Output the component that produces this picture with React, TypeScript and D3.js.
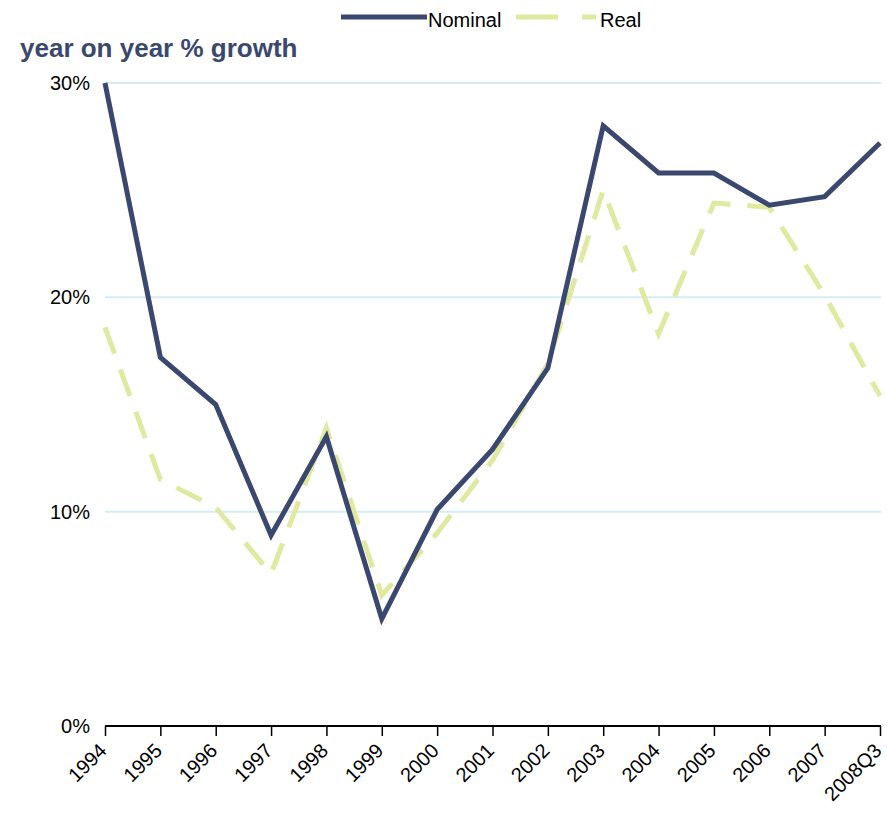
import React, { useRef, useEffect } from 'react';
import * as d3 from 'd3';

const categories = ['1994', '1995', '1996', '1997', '1998', '1999', '2000', '2001', '2002', '2003', '2004', '2005', '2006', '2007', '2008Q3'];
const nominal = [30.0, 17.2, 15.0, 8.9, 13.5, 5.0, 10.1, 12.9, 16.7, 28.0, 25.8, 25.8, 24.3, 24.7, 27.2];
const real = [18.6, 11.5, 10.2, 7.1, 13.9, 6.1, 9.0, 12.4, 16.9, 25.0, 18.3, 24.4, 24.2, 20.1, 15.4];
const yTicks = [0, 10, 20, 30];

const W = 887;
const H = 813;
const navy = '#3a4870';
const lime = '#dfe9a0';
const font = 'Liberation Sans, Arial, sans-serif';

function App() {
    const svgRef = useRef(null);

    useEffect(() => {
        const svg = d3.select(svgRef.current);
        svg.selectAll('*').remove();

        const x = d3.scalePoint().domain(categories).range([105, 880]);
        const y = d3.scaleLinear().domain([0, 30]).range([726, 83]);

        // gridlines
        svg.append('g')
            .selectAll('line')
            .data(yTicks.filter(d => d > 0))
            .join('line')
            .attr('x1', 105).attr('x2', 881)
            .attr('y1', d => y(d)).attr('y2', d => y(d))
            .attr('stroke', '#d5ecf6').attr('stroke-width', 2);

        // y labels
        svg.append('g')
            .selectAll('text')
            .data(yTicks)
            .join('text')
            .attr('x', 90).attr('y', d => y(d) + 7)
            .attr('text-anchor', 'end')
            .attr('font-family', font)
            .attr('font-size', 20)
            .attr('fill', '#000')
            .text(d => d + '%');

        // x axis
        const xAxis = svg.append('g').attr('transform', `translate(0,${y(0)})`)
            .call(d3.axisBottom(x).tickSize(10).tickFormat(() => ''));
        xAxis.select('.domain').attr('stroke', '#000').attr('stroke-width', 2)
            .attr('d', `M105,0H881`);
        xAxis.selectAll('.tick line').attr('stroke', '#000').attr('stroke-width', 1.5);

        svg.append('g')
            .selectAll('text')
            .data(categories)
            .join('text')
            .attr('transform', d => `translate(${x(d) - 7},${y(0) + 16}) rotate(-45)`)
            .attr('text-anchor', 'end')
            .attr('dy', '0.7em')
            .attr('font-family', font)
            .attr('font-size', 20)
            .attr('fill', '#000')
            .text(d => d);

        const line = d3.line().x((d, i) => x(categories[i])).y(d => y(d));

        svg.append('path')
            .datum(real)
            .attr('d', line)
            .attr('fill', 'none')
            .attr('stroke', lime)
            .attr('stroke-width', 5)
            .attr('stroke-dasharray', '28,17');

        svg.append('path')
            .datum(nominal)
            .attr('d', line)
            .attr('fill', 'none')
            .attr('stroke', navy)
            .attr('stroke-width', 5);

        // title
        svg.append('text')
            .attr('x', 20).attr('y', 57)
            .attr('font-family', font)
            .attr('font-size', 26)
            .attr('font-weight', 'bold')
            .attr('fill', navy)
            .text('year on year % growth');

        // legend
        const lg = svg.append('g').attr('font-family', font).attr('font-size', 20);
        lg.append('line').attr('x1', 341).attr('x2', 427).attr('y1', 17).attr('y2', 17)
            .attr('stroke', navy).attr('stroke-width', 5);
        lg.append('text').attr('x', 428).attr('y', 27).text('Nominal');
        lg.append('line').attr('x1', 516).attr('x2', 596).attr('y1', 17).attr('y2', 17)
            .attr('stroke', lime).attr('stroke-width', 5).attr('stroke-dasharray', '42,24');
        lg.append('text').attr('x', 600).attr('y', 27).text('Real');
    }, []);

    return (
        <div style={{ position: 'absolute', left: 0, top: 0 }}>
            <svg ref={svgRef} width={W} height={H} style={{ display: 'block', background: '#fff' }}></svg>
        </div>
    );
}

export default App;
